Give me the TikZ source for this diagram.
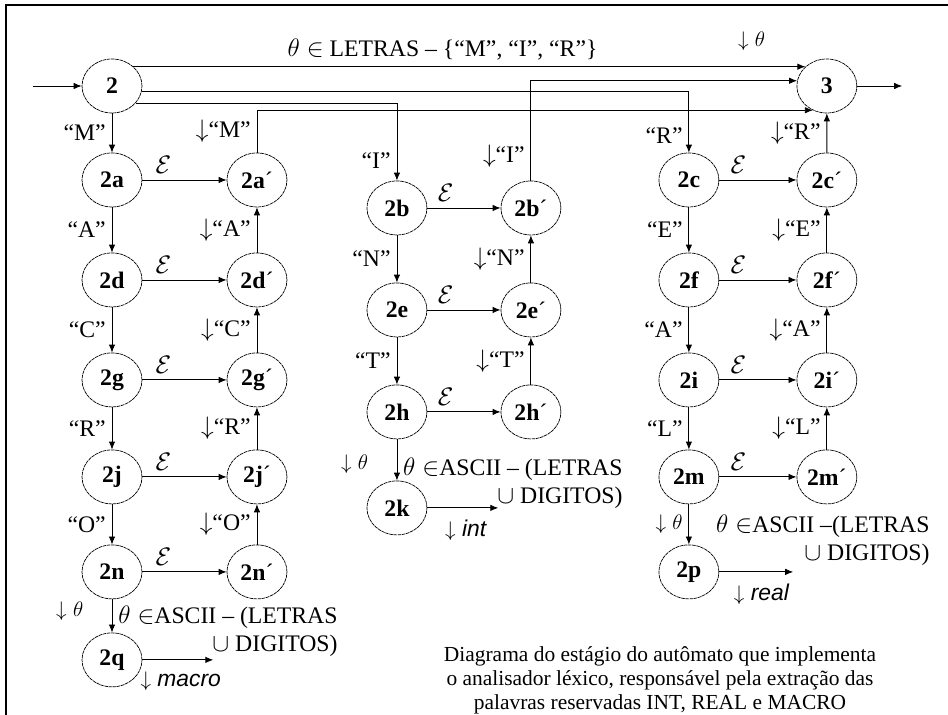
\documentclass[tikz,border=0pt]{standalone}
\usepackage{fontspec}
\setmainfont{Liberation Serif}
\newfontfamily\acaofont{Liberation Sans}
\usetikzlibrary{
    arrows.meta,
    positioning,
    shapes.geometric
}

\begin{document}
\begin{tikzpicture}[
x=0.02cm, y=-0.02cm,
on grid,
font=\fontsize{13.5}{16}\selectfont,
estado/.style={
draw,
ellipse,
minimum width=1.2cm,
minimum height=1.08cm,
inner sep=0pt,
dash pattern=on 2pt off 0.4pt,
font=\fontsize{13.5}{16}\selectfont\bfseries
},
trans/.style={
-{Latex[length=1.6mm,width=1.3mm]},
line width=0.5pt
},
acao/.style={font=\fontsize{13}{16}\selectfont\acaofont\itshape}
]

\useasboundingbox (0,0) rectangle (948,715);
\draw[line width=1.2pt] (6,715) |- (948,5);

\node[estado] (s2) at (112,86) {2};
\node[estado, right=14.3cm of s2] (s3) {3};

% MACRO
\node[estado, below=1.88cm of s2] (s2a) {2a};
\node[estado, below=2.0cm of s2a] (s2d) {2d};
\node[estado, below=2.0cm of s2d] (s2g) {2g};
\node[estado, below=1.94cm of s2g] (s2j) {2j};
\node[estado, below=1.9cm of s2j] (s2n) {2n};
\node[estado, below=1.76cm of s2n] (s2q) {2q};
\node[estado, right=2.9cm of s2a] (s2ap) {2a\textmd{´}};
\node[estado, right=2.9cm of s2d] (s2dp) {2d\textmd{´}};
\node[estado, right=2.9cm of s2g] (s2gp) {2g\textmd{´}};
\node[estado, right=2.9cm of s2j] (s2jp) {2j\textmd{´}};
\node[estado, right=2.9cm of s2n] (s2np) {2n\textmd{´}};

% INT
\node[estado, below right=2.44cm and 5.7cm of s2] (s2b) {2b};
\node[estado, below=2.04cm of s2b] (s2e) {2e};
\node[estado, below=2.04cm of s2e] (s2h) {2h};
\node[estado, below=1.92cm of s2h] (s2k) {2k};
\node[estado, right=2.68cm of s2b] (s2bp) {2b\textmd{´}};
\node[estado, right=2.68cm of s2e] (s2ep) {2e\textmd{´}};
\node[estado, right=2.68cm of s2h] (s2hp) {2h\textmd{´}};

% REAL
\node[estado, right=11.54cm of s2a] (s2c) {2c};
\node[estado, below=2.0cm of s2c] (s2f) {2f};
\node[estado, below=2.0cm of s2f] (s2i) {2i};
\node[estado, below=1.94cm of s2i] (s2m) {2m};
\node[estado, below=1.9cm of s2m] (s2p) {2p};
\node[estado, right=2.76cm of s2c] (s2cp) {2c\textmd{´}};
\node[estado, right=2.76cm of s2f] (s2fp) {2f\textmd{´}};
\node[estado, right=2.76cm of s2i] (s2ip) {2i\textmd{´}};
\node[estado, right=2.76cm of s2m] (s2mp) {2m\textmd{´}};

\coordinate[left=0.98cm of s2.west] (entrada);
\coordinate[right=0.9cm of s3.east] (saida);
\coordinate[right=1.42cm of s2q.east] (fimmacro);
\coordinate[right=1.42cm of s2k.east] (fimint);
\coordinate[right=1.48cm of s2p.east] (fimreal);

% ligacoes do estado 2 ao 3
\draw[trans] (entrada) -- (s2);
\draw[trans] (s3) -- (saida);
\draw[trans] (s2.42) --
node[pos=0.46, above] {$\theta\in$ LETRAS – \{“M”, “I”, “R”\}}
node[pos=0.92, above=0.2cm, acao] {$\downarrow$ $\theta$}
(s3.138);
\draw[trans] (s2.-10) -| node[pos=0.86, left] {“R”} (s2c.north);
\draw[trans] (s2.-36) -| node[pos=0.87, left] {“I”} (s2b.north);
\draw[trans] (s2bp.north) |- node[pos=0.12, left] {$\downarrow$“I”} (s3.170);
\draw[trans] (s2ap.north) |- node[pos=0.25, left] {$\downarrow$“M”} (s3.-120);
\draw[trans] (s2cp) -- node[left] {$\downarrow$“R”} (s3);

% MACRO
\draw[trans] (s2) -- node[left] {“M”} (s2a);
\draw[trans] (s2a) -- node[left] {“A”} (s2d);
\draw[trans] (s2d) -- node[left] {“C”} (s2g);
\draw[trans] (s2g) -- node[left] {“R”} (s2j);
\draw[trans] (s2j) -- node[left] {“O”} (s2n);
\draw[trans] (s2n) --
node[pos=0.35, left=0.45cm, acao] {$\downarrow$ $\theta$}
node[pos=0, anchor=north west, align=right] {$\theta\in$ASCII – (LETRAS\\$\cup$ DIGITOS)}
(s2q);
\draw[trans] (s2q) -- node[pos=0.54, below=0.12cm, acao] {$\downarrow$ macro} (fimmacro);
\draw[trans] (s2a) -- node[pos=0.25, above] {$\mathcal{E}$} (s2ap);
\draw[trans] (s2d) -- node[pos=0.25, above] {$\mathcal{E}$} (s2dp);
\draw[trans] (s2g) -- node[pos=0.25, above] {$\mathcal{E}$} (s2gp);
\draw[trans] (s2j) -- node[pos=0.25, above] {$\mathcal{E}$} (s2jp);
\draw[trans] (s2n) -- node[pos=0.25, above] {$\mathcal{E}$} (s2np);
\draw[trans] (s2dp) -- node[left] {$\downarrow$“A”} (s2ap);
\draw[trans] (s2gp) -- node[left] {$\downarrow$“C”} (s2dp);
\draw[trans] (s2jp) -- node[left] {$\downarrow$“R”} (s2gp);
\draw[trans] (s2np) -- node[left] {$\downarrow$“O”} (s2jp);

% INT
\draw[trans] (s2b) -- node[left] {“N”} (s2e);
\draw[trans] (s2e) -- node[left] {“T”} (s2h);
\draw[trans] (s2h) --
node[pos=0.6, left=0.45cm, acao] {$\downarrow$ $\theta$}
node[pos=0.3, anchor=north west, align=right] {$\theta\in$ASCII – (LETRAS\\$\cup$ DIGITOS)}
(s2k);
\draw[trans] (s2k) -- node[pos=0.54, below=0.12cm, acao] {$\downarrow$ int} (fimint);
\draw[trans] (s2b) -- node[pos=0.25, above] {$\mathcal{E}$} (s2bp);
\draw[trans] (s2e) -- node[pos=0.25, above] {$\mathcal{E}$} (s2ep);
\draw[trans] (s2h) -- node[pos=0.25, above] {$\mathcal{E}$} (s2hp);
\draw[trans] (s2ep) -- node[left] {$\downarrow$“N”} (s2bp);
\draw[trans] (s2hp) -- node[left] {$\downarrow$“T”} (s2ep);

% REAL
\draw[trans] (s2c) -- node[left] {“E”} (s2f);
\draw[trans] (s2f) -- node[left] {“A”} (s2i);
\draw[trans] (s2i) -- node[left] {“L”} (s2m);
\draw[trans] (s2m) --
node[left, acao] {$\downarrow$ $\theta$}
node[pos=0.1, anchor=north west, xshift=0.42cm, align=right] {$\theta\in$ASCII –(LETRAS\\$\cup$ DIGITOS)}
(s2p);
\draw[trans] (s2p) -- node[pos=0.57, below=0.12cm, acao] {$\downarrow$ real} (fimreal);
\draw[trans] (s2c) -- node[pos=0.25, above] {$\mathcal{E}$} (s2cp);
\draw[trans] (s2f) -- node[pos=0.25, above] {$\mathcal{E}$} (s2fp);
\draw[trans] (s2i) -- node[pos=0.25, above] {$\mathcal{E}$} (s2ip);
\draw[trans] (s2m) -- node[pos=0.25, above] {$\mathcal{E}$} (s2mp);
\draw[trans] (s2fp) -- node[left] {$\downarrow$“E”} (s2cp);
\draw[trans] (s2ip) -- node[left] {$\downarrow$“A”} (s2fp);
\draw[trans] (s2mp) -- node[left] {$\downarrow$“L”} (s2ip);

\node[align=center, font=\fontsize{12.2}{13.6}\selectfont] (legenda) at (660,680)
{Diagrama do estágio do autômato que implementa\\
o analisador léxico, responsável pela extração das\\
palavras reservadas INT, REAL e MACRO};

\end{tikzpicture}
\end{document}
